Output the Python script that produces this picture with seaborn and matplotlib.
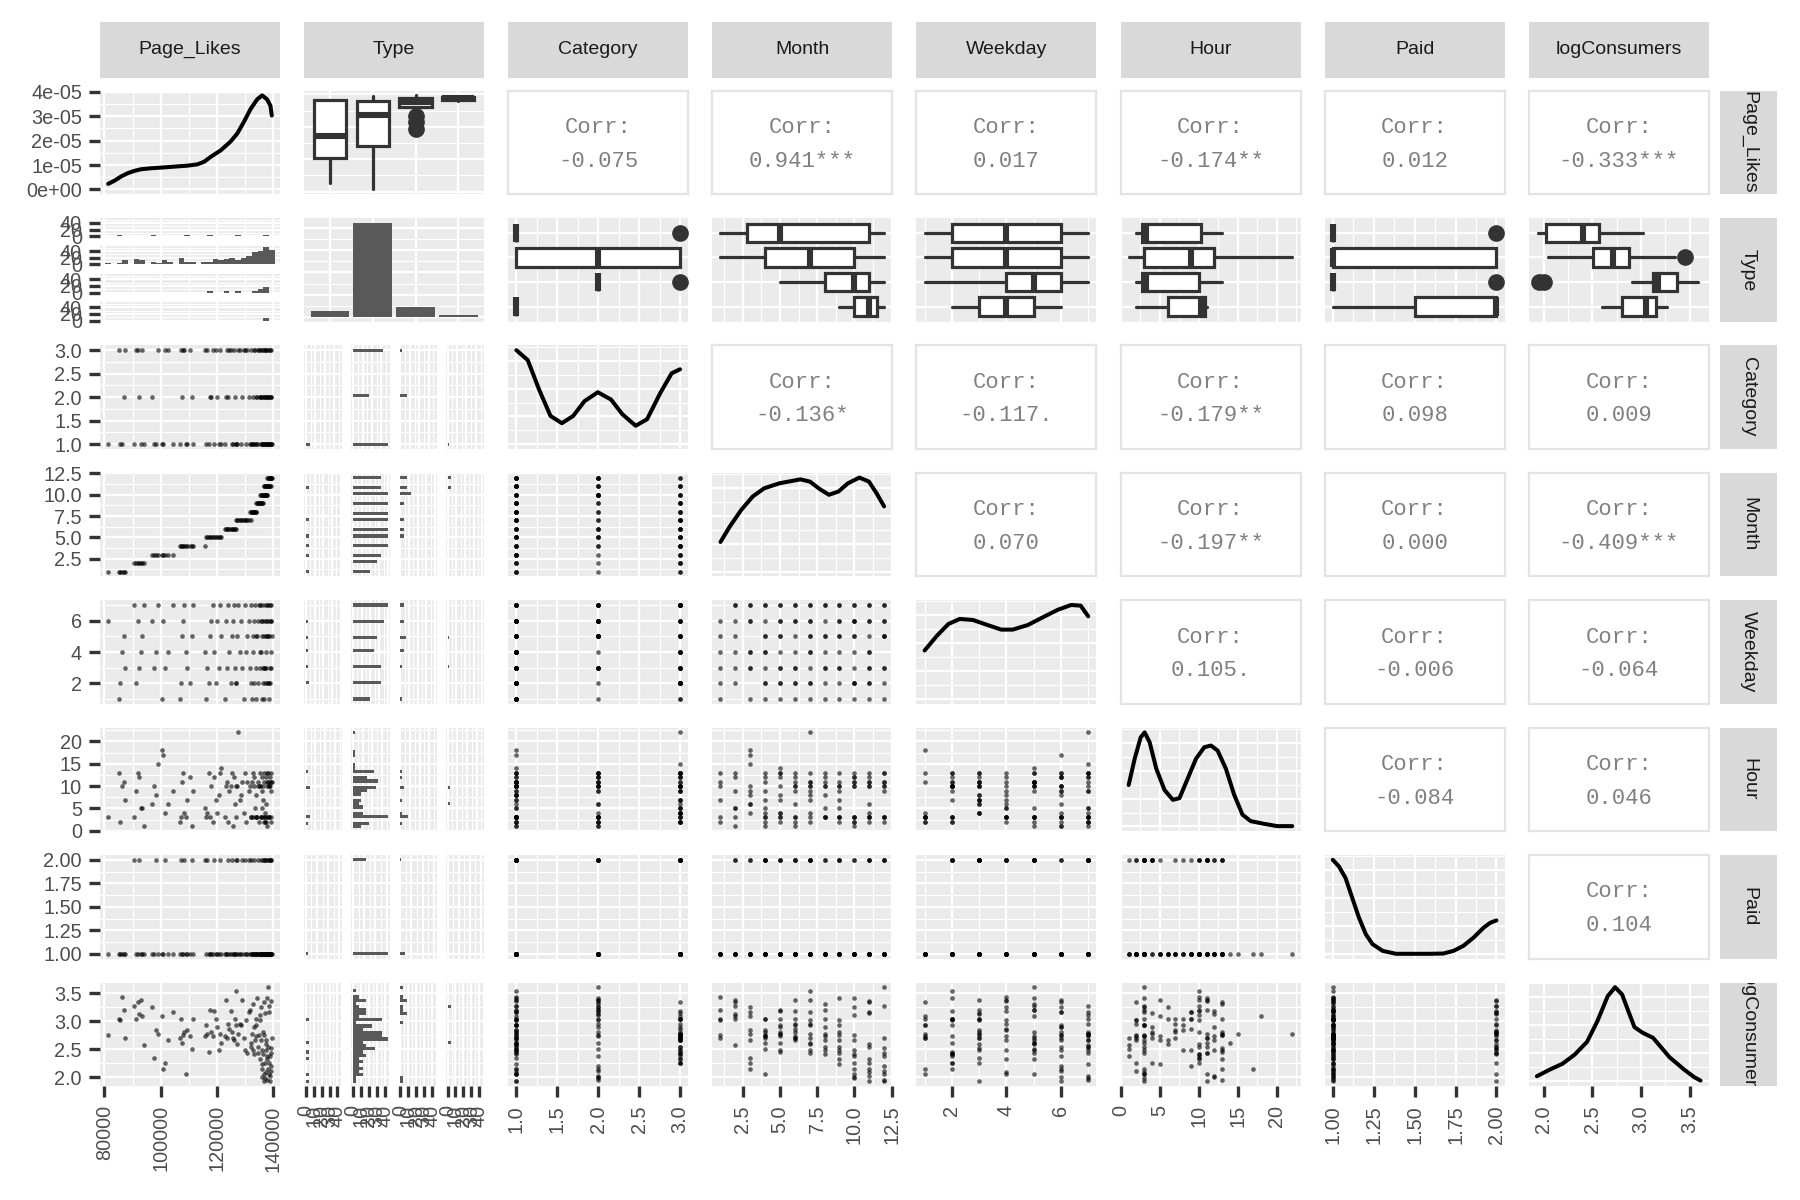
import numpy as np
import pandas as pd
import matplotlib
matplotlib.use("Agg")
import matplotlib.pyplot as plt
from matplotlib.ticker import (AutoMinorLocator, FixedLocator, FixedFormatter,
                               MaxNLocator, NullLocator)
import seaborn as sns

sns.set_theme(style="white")
plt.rcParams["font.family"] = ["Liberation Sans", "DejaVu Sans"]

# ---------------- posts (one row = 4 posts) ----------------
posts_per_row = 4

page_likes = [
    81370, 85050, 85600, 86400, 87050, 87400,
    90600, 91300, 91800, 92300, 92900, 93500, 94000,
    96800, 97500, 98200, 99100, 100400, 100800, 101500, 102500, 104300,
    106800, 107200, 107600, 108000, 108400, 108900, 109500, 110300, 111000, 111600, 115600,
    116000, 116500, 117600, 117200, 118000, 118600, 119100, 119600, 120100, 120700, 121100, 121500,
    122700, 123100, 123500, 124000, 124400, 124800, 125200, 125600, 126000, 126300, 126600,
    126800, 127200, 127600, 128000, 128500, 129000, 129400, 129900, 130400, 130800, 131300, 131900,
    131700, 132000, 132300, 132600, 132800, 133000, 133200, 133400, 133700, 134000,
    133800, 134100, 134400, 134700, 134900, 135200, 135400, 135700, 135900, 136100, 136300,
    135300, 135600, 135900, 136100, 136300, 136500, 136700, 136900, 137100, 137300, 137500, 137600, 137800,
    136600, 136800, 137000, 137300, 137500, 137800, 138000, 138200, 138400, 138600, 138800, 139000,
    137900, 138100, 138300, 138500, 138700, 138900, 139000, 139100, 139200, 139300, 139441,
]
type_letters = ("PPLPPP" "PPPPPPP" "PLPPPPPPP" "PPPPPLPPPPP" "PPSLPPPPPPPP"
                "PSPPPPPPPPP" "PLPSPPPPPPPP" "PPPPPPPPPP" "PSPPPPPPPPP"
                "SSSPPPPPPPPPP" "LSSVPPPPPPPP" "SSVPPPPPPPP")
category = [
    1, 3, 1, 1, 2, 3,
    1, 3, 3, 2, 1, 3, 1,
    2, 1, 1, 3, 1, 1, 3, 3, 1,
    1, 3, 2, 3, 3, 1, 1, 3, 2, 1, 3,
    1, 3, 2, 1, 2, 3, 1, 3, 2, 1, 3, 1,
    1, 2, 3, 2, 3, 3, 1, 1, 3, 2, 1,
    1, 1, 3, 3, 1, 2, 3, 3, 1, 3, 2, 1,
    1, 3, 1, 2, 1, 3, 1, 3, 1, 2,
    1, 2, 3, 1, 3, 3, 2, 1, 3, 1, 1,
    2, 2, 2, 1, 3, 1, 2, 2, 3, 1, 3, 1, 2,
    1, 2, 3, 1, 1, 3, 1, 2, 1, 3, 2, 1,
    2, 2, 1, 1, 3, 1, 2, 1, 3, 2, 1,
]
month = ([1] * 6 + [2] * 7 + [3] * 9 + [4] * 11 + [5] * 12 + [6] * 11 + [7] * 12
         + [8] * 10 + [9] * 11 + [10] * 13 + [11] * 12 + [12] * 11)
weekday = [
    6, 1, 2, 4, 5, 3,
    7, 2, 6, 3, 4, 5, 7,
    6, 3, 4, 7, 1, 6, 3, 4, 7,
    1, 2, 5, 6, 7, 4, 3, 2, 5, 7, 4,
    1, 3, 5, 2, 6, 7, 4, 2, 6, 3, 7, 5,
    1, 6, 3, 7, 4, 2, 5, 6, 7, 3, 2,
    2, 5, 7, 4, 6, 3, 1, 7, 4, 5, 6, 2,
    3, 7, 1, 5, 4, 6, 2, 7, 3, 5,
    1, 5, 6, 2, 7, 4, 3, 6, 5, 7, 3,
    7, 4, 6, 1, 2, 5, 3, 7, 2, 6, 5, 2, 6,
    6, 1, 3, 3, 4, 5, 7, 2, 6, 2, 7, 4,
    7, 5, 5, 1, 2, 3, 6, 3, 7, 6, 5,
]
hour = [
    3, 13, 2, 10, 11, 7,
    3, 9, 13, 12, 5, 5, 1,
    6, 10, 8, 15, 18, 17, 4, 6, 9,
    2, 3, 11, 13, 4, 3, 7, 12, 1, 9, 5,
    3, 4, 3, 13, 10, 2, 12, 7, 4, 8, 13, 14,
    3, 10, 11, 2, 9, 10, 13, 1, 12, 6, 3,
    10, 10, 22, 7, 8, 11, 4, 13, 2, 11, 9, 3,
    10, 3, 11, 13, 3, 12, 10, 5, 8, 3,
    3, 3, 10, 11, 2, 13, 10, 3, 9, 5, 7,
    10, 3, 12, 3, 10, 11, 13, 3, 2, 12, 2, 11, 1,
    3, 2, 4, 6, 3, 10, 11, 13, 3, 10, 12, 11,
    13, 3, 10, 3, 10, 11, 9, 13, 3, 2, 11,
]
paid = [
    1, 1, 1, 1, 1, 1,
    2, 1, 1, 2, 1, 1, 1,
    1, 1, 2, 1, 1, 1, 2, 1, 1,
    1, 2, 1, 1, 2, 1, 1, 1, 2, 1, 2,
    1, 2, 1, 1, 1, 1, 2, 1, 1, 1, 2, 1,
    1, 1, 1, 2, 1, 1, 2, 1, 1, 1, 2,
    1, 2, 1, 1, 1, 2, 1, 2, 1, 1, 2, 1,
    1, 2, 1, 1, 1, 1, 2, 1, 1, 1,
    1, 1, 1, 2, 1, 1, 1, 2, 1, 1, 2,
    1, 1, 1, 1, 1, 2, 1, 1, 1, 1, 2, 1, 1,
    1, 1, 2, 1, 1, 1, 2, 1, 1, 1, 1, 2,
    1, 1, 2, 1, 1, 2, 1, 1, 2, 1, 1,
]
log_consumers = [
    2.76, 3.05, 3.02, 3.44, 3.20, 2.70,
    3.28, 3.05, 3.35, 3.13, 3.38, 3.10, 2.58,
    3.26, 2.35, 2.84, 2.78, 3.10, 2.15, 2.26, 2.67, 3.16,
    2.70, 3.05, 2.61, 2.76, 2.81, 2.05, 2.84, 2.73, 2.50, 3.05, 2.73,
    2.93, 2.78, 3.20, 2.45, 2.81, 2.73, 3.19, 3.05, 2.89, 2.49, 2.78, 2.61,
    2.73, 3.39, 2.70, 2.96, 2.87, 3.19, 2.81, 2.70, 2.67, 3.05, 2.93,
    3.55, 2.60, 2.78, 2.95, 2.93, 3.38, 2.70, 2.49, 3.02, 2.43, 3.16, 2.61,
    3.21, 2.55, 2.78, 3.31, 2.49, 2.90, 2.41, 2.66, 3.05, 2.73,
    2.93, 3.42, 2.55, 2.44, 2.76, 2.32, 3.02, 2.66, 2.49, 2.23, 2.81,
    3.12, 3.25, 2.00, 2.15, 2.41, 2.06, 2.76, 1.98, 2.26, 2.49, 2.66, 3.42, 2.38,
    1.94, 3.35, 3.15, 2.60, 2.09, 2.33, 2.55, 2.15, 3.16, 2.26, 2.03, 3.37,
    1.95, 3.61, 3.27, 2.06, 2.38, 1.93, 2.20, 2.52, 2.44, 2.12, 2.70,
]

TYPES = ["Link", "Photo", "Status", "Video"]
type_names = {"L": "Link", "P": "Photo", "S": "Status", "V": "Video"}

# ---------------- diagonal density curves ----------------
pl_dens_x = [81370, 83650, 86000, 88350, 90700, 93050, 96600, 100100, 104800, 109500,
             113050, 115400, 117750, 121300, 124800, 127200, 129500, 131900, 134250,
             136000, 137750, 138950, 139441]
pl_dens_y = [0.227e-5, 0.36e-5, 0.533e-5, 0.667e-5, 0.76e-5, 0.827e-5, 0.867e-5, 0.893e-5,
             0.933e-5, 0.973e-5, 1.027e-5, 1.133e-5, 1.333e-5, 1.6e-5, 1.96e-5, 2.293e-5,
             2.76e-5, 3.293e-5, 3.693e-5, 3.853e-5, 3.693e-5, 3.427e-5, 3.027e-5]
cat_dens_x = [1.0, 1.139, 1.278, 1.417, 1.556, 1.694, 1.833, 1.995, 2.157, 2.296, 2.458,
              2.597, 2.759, 2.898, 3.0]
cat_dens_y = [1.015, 0.908, 0.589, 0.305, 0.227, 0.305, 0.465, 0.561, 0.482, 0.323, 0.199,
              0.269, 0.553, 0.766, 0.809]
month_dens_x = [1.0, 1.64, 2.41, 3.17, 3.94, 4.97, 6.37, 7.01, 7.65, 8.29, 8.93, 9.57,
                10.34, 10.98, 11.49, 12.0]
month_dens_y = [0.319, 0.489, 0.667, 0.809, 0.897, 0.951, 0.993, 0.969, 0.891, 0.827, 0.862,
                0.951, 1.012, 0.969, 0.844, 0.702]
wd_dens_x = [1.0, 1.457, 1.873, 2.289, 2.774, 3.259, 3.813, 4.229, 4.783, 5.337, 5.891,
             6.376, 6.723, 7.0]
wd_dens_y = [0.518, 0.677, 0.801, 0.855, 0.844, 0.795, 0.741, 0.741, 0.790, 0.873, 0.954,
             1.004, 0.997, 0.883]
hour_dens_x = [1.0, 1.77, 2.54, 3.05, 3.69, 4.54, 5.60, 6.67, 7.52, 8.58, 9.64, 10.71,
               11.56, 12.41, 13.47, 14.54, 15.60, 16.66, 18.36, 20.06, 22.0]
hour_dens_y = [0.447, 0.731, 0.961, 1.015, 0.908, 0.624, 0.393, 0.287, 0.305, 0.518, 0.731,
               0.855, 0.873, 0.819, 0.624, 0.341, 0.127, 0.057, 0.028, 0.003, 0.003]
paid_dens_x = [1.0, 1.037, 1.078, 1.119, 1.160, 1.202, 1.243, 1.305, 1.387, 1.469, 1.593,
               1.675, 1.737, 1.798, 1.860, 1.922, 1.963, 2.0]
paid_dens_y = [1.007, 0.937, 0.812, 0.599, 0.387, 0.209, 0.103, 0.031, 0.0, 0.0, 0.0,
               0.003, 0.031, 0.085, 0.173, 0.28, 0.333, 0.358]
logc_dens_x = [1.93, 2.064, 2.191, 2.318, 2.445, 2.551, 2.657, 2.733, 2.805, 2.869, 2.932,
               3.017, 3.123, 3.292, 3.441, 3.547, 3.61]
logc_dens_y = [0.053, 0.125, 0.185, 0.284, 0.42, 0.641, 0.908, 1.004, 0.926, 0.748, 0.577,
               0.517, 0.463, 0.256, 0.125, 0.042, 0.007]

# ---------------- boxplot summaries by Type (Link, Photo, Status, Video) ----------------
# whisker low, q1, median, q3, whisker high, outliers
box_page_likes = [[85300, 100500, 114500, 136600, 136600, []],
                  [81370, 108100, 127600, 136000, 139300, []],
                  [131000, 132200, 135600, 138100, 139400, [127000, 123000, 118700]],
                  [136000, 136800, 137700, 138600, 139200, []]]
box_category = [[1, 1, 1, 1, 1, [3]],
                [1, 1, 2, 3, 3, []],
                [2, 2, 2, 2, 2, [3]],
                [1, 1, 1, 1, 1, []]]
box_month = [[1, 2.75, 5, 11, 12, []],
             [1, 4, 7, 10, 12, []],
             [5, 8, 10, 11, 12, []],
             [9, 10, 11, 11.5, 12, []]]
box_weekday = [[1, 2, 4, 6, 7, []],
               [1, 2, 4, 6, 7, []],
               [1, 4, 5, 6, 7, []],
               [2, 3, 4, 5, 6, []]]
box_hour = [[2, 2.75, 3.25, 10.25, 13, []],
            [1, 3, 9, 12, 22, []],
            [2, 2.75, 3.25, 10, 13, []],
            [2, 6, 10.25, 10.75, 11, []]]
box_paid = [[1, 1, 1, 1, 1, [2]],
            [1, 1, 1, 2, 2, []],
            [1, 1, 1, 1, 1, [2]],
            [1, 1.5, 2, 2, 2, []]]
box_logc = [[1.94, 2.02, 2.40, 2.57, 3.02, []],
            [2.04, 2.51, 2.71, 2.88, 3.35, [3.45]],
            [2.91, 3.12, 3.17, 3.37, 3.58, [1.95, 2.0]],
            [2.6, 2.8, 3.05, 3.15, 3.27, []]]

corr_text = {
    (0, 2): "-0.075", (0, 3): "0.941***", (0, 4): "0.017", (0, 5): "-0.174**",
    (0, 6): "0.012", (0, 7): "-0.333***",
    (2, 3): "-0.136*", (2, 4): "-0.117.", (2, 5): "-0.179**", (2, 6): "0.098", (2, 7): "0.009",
    (3, 4): "0.070", (3, 5): "-0.197**", (3, 6): "0.000", (3, 7): "-0.409***",
    (4, 5): "0.105.", (4, 6): "-0.006", (4, 7): "-0.064",
    (5, 6): "-0.084", (5, 7): "0.046",
    (6, 7): "0.104",
}

VARS = ["Page_Likes", "Type", "Category", "Month", "Weekday", "Hour", "Paid", "logConsumers"]
TICKS = {
    "Page_Likes": [80000, 100000, 120000, 140000],
    "Category": [1.0, 1.5, 2.0, 2.5, 3.0],
    "Month": [2.5, 5.0, 7.5, 10.0, 12.5],
    "Weekday": [2, 4, 6],
    "Hour": [0, 5, 10, 15, 20],
    "Paid": [1.0, 1.25, 1.5, 1.75, 2.0],
    "logConsumers": [2.0, 2.5, 3.0, 3.5],
}
TICK_LABELS = {
    "Page_Likes": ["80000", "100000", "120000", "140000"],
    "Category": ["1.0", "1.5", "2.0", "2.5", "3.0"],
    "Month": ["2.5", "5.0", "7.5", "10.0", "12.5"],
    "Weekday": ["2", "4", "6"],
    "Hour": ["0", "5", "10", "15", "20"],
    "Paid": ["1.00", "1.25", "1.50", "1.75", "2.00"],
    "logConsumers": ["2.0", "2.5", "3.0", "3.5"],
}
DENS_TICKS = [0, 1e-5, 2e-5, 3e-5, 4e-5]
DENS_LABELS = ["0e+00", "1e-05", "2e-05", "3e-05", "4e-05"]

df = pd.DataFrame({
    "Page_Likes": page_likes,
    "Type": [type_names[c] for c in type_letters],
    "Category": category,
    "Month": month,
    "Weekday": weekday,
    "Hour": hour,
    "Paid": paid,
    "logConsumers": log_consumers,
})
df["w"] = posts_per_row

densities = {
    "Page_Likes": (pl_dens_x, pl_dens_y), "Category": (cat_dens_x, cat_dens_y),
    "Month": (month_dens_x, month_dens_y), "Weekday": (wd_dens_x, wd_dens_y),
    "Hour": (hour_dens_x, hour_dens_y), "Paid": (paid_dens_x, paid_dens_y),
    "logConsumers": (logc_dens_x, logc_dens_y),
}
boxes = {"Category": box_category, "Month": box_month, "Weekday": box_weekday,
         "Hour": box_hour, "Paid": box_paid, "logConsumers": box_logc}

LIMITS = {}
for v in TICKS:
    lo, hi = df[v].min(), df[v].max()
    pad = 0.05 * (hi - lo)
    LIMITS[v] = (lo - pad, hi + pad)

# ---------------- layout (pixels of the 1800x1200 output) ----------------
W, H = 1800, 1200
COL_X = [100 + 204.1 * j for j in range(8)]
ROW_Y = [90.7 + 127.4 * i for i in range(8)]
PW, PH = 180, 103.4
GAP = 9
BG = "#EBEBEB"
DARK = "#333333"
TXT = "#4D4D4D"
BAR = "#595959"
TICK_SIZE = 14.3

fig = plt.figure(figsize=(18, 12), dpi=100)


def frect(x, y, w, h):
    return [x / W, 1 - (y + h) / H, w / W, h / H]


def base_style(ax):
    ax.set_facecolor(BG)
    for s in ax.spines.values():
        s.set_visible(False)
    ax.set_axisbelow(True)
    ax.grid(which="major", color="white", lw=1.6)
    ax.grid(which="minor", color="white", lw=0.8)
    ax.tick_params(which="both", length=0, labelleft=False, labelbottom=False)


def set_axis(ax, which, var):
    axis = ax.xaxis if which == "x" else ax.yaxis
    setlim = ax.set_xlim if which == "x" else ax.set_ylim
    if var == "Type":
        setlim(0.4, 4.6)
        axis.set_major_locator(FixedLocator([1, 2, 3, 4]))
        axis.set_minor_locator(NullLocator())
    else:
        setlim(*LIMITS[var])
        axis.set_major_locator(FixedLocator(TICKS[var]))
        axis.set_major_formatter(FixedFormatter(TICK_LABELS[var]))
        axis.set_minor_locator(AutoMinorLocator(2))


def count_axis(axis):
    axis.set_major_locator(MaxNLocator(nbins=5, steps=[1, 2, 2.5, 5, 10], integer=True))
    axis.set_minor_locator(AutoMinorLocator(2))


def show_left(ax):
    ax.tick_params(axis="y", which="major", left=True, labelleft=True, length=8, width=2.4,
                   color=DARK, labelcolor=TXT, labelsize=TICK_SIZE, pad=5)


def show_bottom(ax):
    ax.tick_params(axis="x", which="major", bottom=True, labelbottom=True, length=8,
                   width=2.4, color=DARK, labelcolor=TXT, labelsize=TICK_SIZE, pad=6,
                   labelrotation=90)


def gg_bins(values):
    # ggplot's 30 bins: width = range / 29, centred on the extremes
    lo, hi = float(min(values)), float(max(values))
    w = (hi - lo) / 29
    return w, (lo - w / 2, hi + w / 2)


def draw_hist(ax, data, var, horizontal, width, brange):
    kw = dict(y=var) if horizontal else dict(x=var)
    sns.histplot(data=data, weights="w", binwidth=width, binrange=brange, ax=ax,
                 color=BAR, alpha=1, linewidth=0, **kw)


def hist_max(var, width, brange):
    edges = np.arange(brange[0], brange[1] + width / 2, width)
    return max(np.histogram(df.loc[df.Type == t, var], bins=edges,
                            weights=df.loc[df.Type == t, "w"])[0].max() for t in TYPES)


def draw_box(ax, stats, horizontal):
    bstats = [dict(whislo=s[0], q1=s[1], med=s[2], q3=s[3], whishi=s[4], fliers=s[5])
              for s in stats]
    pos = [4, 3, 2, 1] if horizontal else [1, 2, 3, 4]
    ax.bxp(bstats, positions=pos, widths=0.75,
           orientation="horizontal" if horizontal else "vertical",
           patch_artist=True, showcaps=False, manage_ticks=False,
           boxprops=dict(facecolor="white", edgecolor=DARK, lw=2.3),
           whiskerprops=dict(color=DARK, lw=2.3),
           medianprops=dict(color=DARK, lw=4.4, solid_capstyle="butt"),
           flierprops=dict(marker="o", markerfacecolor=DARK, markeredgecolor=DARK,
                           markersize=11))


def draw_density(ax, var):
    xs, ys = densities[var]
    sns.lineplot(x=xs, y=ys, ax=ax, color="black", lw=2.9, sort=False, estimator=None)
    m = max(ys)
    ax.set_ylim(-0.05 * m, 1.05 * m)


# ---------------- panels ----------------
for i, yv in enumerate(VARS):
    for j, xv in enumerate(VARS):
        x0, y0 = COL_X[j], ROW_Y[i]

        # Page_Likes histograms stacked by Type
        if i == 1 and j == 0:
            width, brange = gg_bins(df["Page_Likes"])
            cmax = hist_max("Page_Likes", width, brange)
            sub_h = (PH - 3 * GAP) / 4
            for k, t in enumerate(TYPES):
                sax = fig.add_axes(frect(x0, y0 + k * (sub_h + GAP), PW, sub_h))
                base_style(sax)
                draw_hist(sax, df[df.Type == t], "Page_Likes", False, width, brange)
                set_axis(sax, "x", "Page_Likes")
                sax.set_ylim(-0.05 * cmax, 1.05 * cmax)
                count_axis(sax.yaxis)
                sax.set_xlabel("")
                sax.set_ylabel("")
                show_left(sax)
            continue

        # other variables' histograms side by side by Type
        if j == 1 and i >= 2:
            width, brange = gg_bins(df[yv])
            cmax = hist_max(yv, width, brange)
            sub_w = (PW - 3 * GAP) / 4
            for k, t in enumerate(TYPES):
                sax = fig.add_axes(frect(x0 + k * (sub_w + GAP), y0, sub_w, PH))
                base_style(sax)
                draw_hist(sax, df[df.Type == t], yv, True, width, brange)
                set_axis(sax, "y", yv)
                sax.set_xlim(-0.05 * cmax, 1.05 * cmax)
                count_axis(sax.xaxis)
                sax.set_xlabel("")
                sax.set_ylabel("")
                if i == 7:
                    show_bottom(sax)
            continue

        ax = fig.add_axes(frect(x0, y0, PW, PH))

        if (i, j) in corr_text:
            ax.set_facecolor("white")
            for s in ax.spines.values():
                s.set_color("#E3E3E3")
                s.set_linewidth(1.6)
            ax.set_xticks([])
            ax.set_yticks([])
            mono = ["Liberation Mono", "DejaVu Sans Mono"]
            ax.text(0.5, 0.645, "Corr:", transform=ax.transAxes, ha="center", va="center",
                    fontsize=16, color="#808080", family=mono)
            ax.text(0.5, 0.32, corr_text[(i, j)], transform=ax.transAxes, ha="center",
                    va="center", fontsize=16, color="#808080", family=mono)
            continue

        base_style(ax)
        if i == j and xv == "Type":
            counts = df.groupby("Type")["w"].sum().reindex(TYPES)
            ax.bar([1, 2, 3, 4], counts.values, width=0.9, color=BAR, linewidth=0)
            set_axis(ax, "x", "Type")
            m = counts.max()
            ax.set_ylim(-0.05 * m, 1.05 * m)
            count_axis(ax.yaxis)
        elif i == j:
            draw_density(ax, xv)
            set_axis(ax, "x", xv)
            if i == 0:
                ax.yaxis.set_major_locator(FixedLocator(DENS_TICKS))
                ax.yaxis.set_major_formatter(FixedFormatter(DENS_LABELS))
            else:
                ax.yaxis.set_major_locator(MaxNLocator(nbins=4))
            ax.yaxis.set_minor_locator(AutoMinorLocator(2))
        elif i == 0 and j == 1:
            draw_box(ax, box_page_likes, horizontal=False)
            set_axis(ax, "x", "Type")
            set_axis(ax, "y", "Page_Likes")
        elif i == 1:
            draw_box(ax, boxes[xv], horizontal=True)
            set_axis(ax, "x", xv)
            set_axis(ax, "y", "Type")
        else:
            sns.scatterplot(data=df, x=xv, y=yv, ax=ax, color="black", alpha=0.6, s=11,
                            linewidth=0, legend=False)
            set_axis(ax, "x", xv)
            set_axis(ax, "y", yv)

        ax.set_xlabel("")
        ax.set_ylabel("")
        if j == 0:
            show_left(ax)
        if i == 7:
            show_bottom(ax)

# ---------------- strips ----------------
for j, v in enumerate(VARS):
    sax = fig.add_axes(frect(COL_X[j], 21.8, PW, 56.2))
    sax.set_facecolor("#D9D9D9")
    sax.set_xticks([])
    sax.set_yticks([])
    for s in sax.spines.values():
        s.set_visible(False)
    sax.text(0.5, 0.5, v, transform=sax.transAxes, ha="center", va="center",
             fontsize=14, color="#1A1A1A", clip_on=True)

for i, v in enumerate(VARS):
    sax = fig.add_axes(frect(1720, ROW_Y[i], 57, PH))
    sax.set_facecolor("#D9D9D9")
    sax.set_xticks([])
    sax.set_yticks([])
    for s in sax.spines.values():
        s.set_visible(False)
    sax.text(0.5, 0.5, v, transform=sax.transAxes, ha="center", va="center",
             rotation=-90, fontsize=14, color="#1A1A1A", clip_on=True)

fig.savefig("out.png", dpi=100)
